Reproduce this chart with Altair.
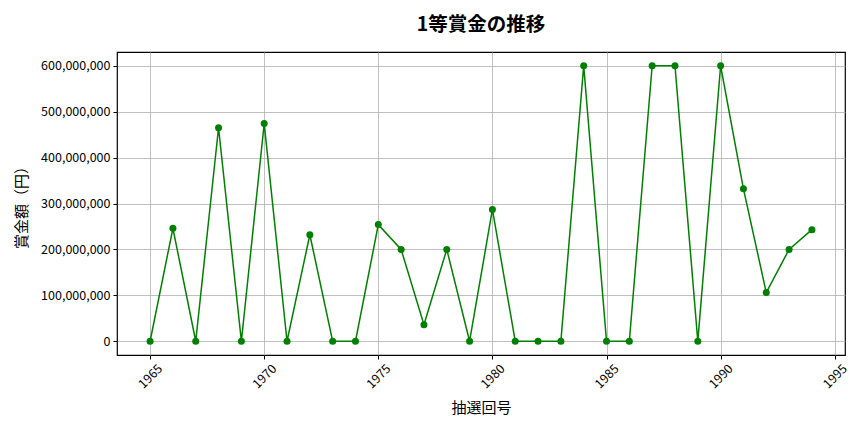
import altair as alt
import pandas as pd

years = list(range(1965, 1995))
prizes = [
    0, 246_000_000, 0, 465_000_000, 0, 474_000_000, 0, 232_000_000, 0, 0,
    254_000_000, 200_000_000, 36_000_000, 200_000_000, 0, 287_000_000, 0, 0, 0, 600_000_000,
    0, 0, 600_000_000, 600_000_000, 0, 600_000_000, 332_000_000, 106_000_000, 200_000_000, 243_000_000,
]
x_ticks = [1965, 1970, 1975, 1980, 1985, 1990, 1995]
y_ticks = [0, 100_000_000, 200_000_000, 300_000_000, 400_000_000, 500_000_000, 600_000_000]

df = pd.DataFrame({"year": years, "prize": prizes})

FONT = "Noto Sans CJK JP"
GREEN = "#008000"

x = alt.X("year:Q", title="抽選回号",
          scale=alt.Scale(domain=[1963.55, 1995.45], nice=False, zero=False),
          axis=alt.Axis(values=x_ticks, format="d", labelAngle=315, labelAlign="center",
                        labelBaseline="middle", labelPadding=17, titlePadding=10))
y = alt.Y("prize:Q", title="賞金額（円）",
          scale=alt.Scale(domain=[-30_000_000, 630_000_000], nice=False, zero=False),
          axis=alt.Axis(values=y_ticks, format=",d", titlePadding=11, labelPadding=3))

line = alt.Chart(df).mark_line(color=GREEN, strokeWidth=1.5).encode(x=x, y=y)
pts = alt.Chart(df).mark_point(color=GREEN, filled=True, size=49, opacity=1).encode(x=x, y=y)

chart = (line + pts).properties(
    width=728, height=303,
    title=alt.TitleParams("1等賞金の推移", fontSize=19.5, fontWeight="bold", font=FONT,
                          color="#000000", offset=17, anchor="middle"),
    autosize=alt.AutoSizeParams(type="none"),
    padding={"left": 109, "top": 44, "right": 11, "bottom": 69},
).configure_view(stroke="#000000", strokeWidth=1.2).configure_axis(
    labelFont=FONT, titleFont=FONT, labelFontSize=12.5, titleFontSize=15,
    titleFontWeight="normal", labelColor="#000000", titleColor="#000000",
    grid=True, gridColor="#b0b0b0", gridWidth=0.8, domain=False,
    tickColor="#000000", tickSize=4,
)

chart.save("out.html", embed_options={"renderer": "svg", "actions": False})
